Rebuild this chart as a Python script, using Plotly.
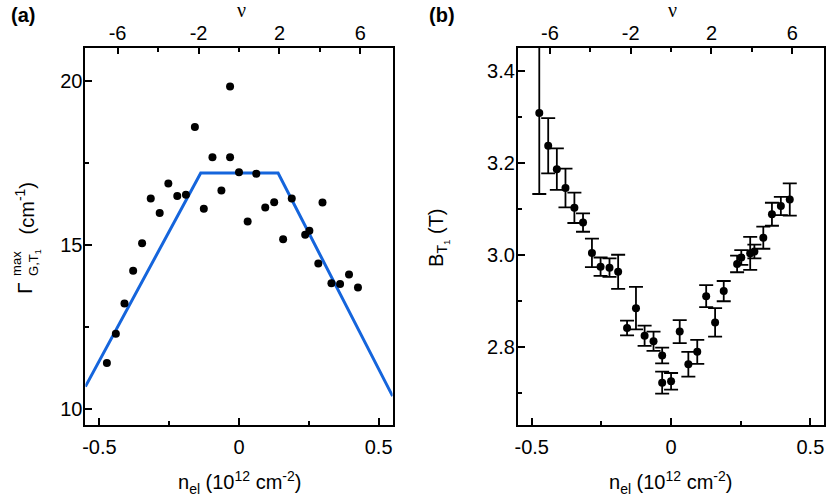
import plotly.graph_objects as go

# carrier density (10^12 cm^-2), same grid in both panels
n_el = [-0.473, -0.441, -0.410, -0.379, -0.347, -0.316, -0.284, -0.253, -0.221, -0.190,
        -0.158, -0.126, -0.095, -0.063, -0.032, -0.032, 0.000, 0.031, 0.062, 0.094,
        0.126, 0.158, 0.189, 0.237, 0.252, 0.284, 0.299, 0.331, 0.362, 0.394, 0.426]

# panel (a): linewidth (cm^-1)
gamma = [11.39, 12.28, 13.20, 14.20, 15.04, 16.40, 15.96, 16.86, 16.48, 16.52,
         18.58, 16.09, 17.66, 16.65, 19.82, 17.66, 17.20, 15.70, 17.16, 16.13,
         16.29, 15.16, 16.40, 15.30, 15.42, 14.42, 16.28, 13.82, 13.80, 14.09, 13.69]

# model curve in (a)
n_fit = [-0.55, -0.137, 0.140, 0.55]
gamma_fit = [10.67, 17.18, 17.18, 10.38]

# panel (b): field B_T1 (T) with error bars
b_t1 = [3.308, 3.237, 3.186, 3.145, 3.102, 3.070, 3.004, 2.974, 2.972, 2.963,
        2.841, 2.884, 2.824, 2.812, 2.781, 2.722, 2.725, 2.833, 2.762, 2.789,
        2.910, 2.853, 2.921, 2.980, 2.994, 3.003, 3.007, 3.037, 3.088, 3.106, 3.120]
b_err = [0.176, 0.060, 0.045, 0.042, 0.033, 0.020, 0.031, 0.020, 0.020, 0.037,
         0.016, 0.046, 0.022, 0.021, 0.017, 0.024, 0.018, 0.025, 0.027, 0.026,
         0.024, 0.031, 0.022, 0.018, 0.016, 0.036, 0.015, 0.024, 0.025, 0.020, 0.035]

# tick labels
n_ticks = [-0.5, 0, 0.5]
n_labels = ["-0.5", "0", "0.5"]
nu_ticks = [-6, -2, 2, 6]
nu_labels = ["-6", "-2", "2", "6"]
g_ticks = [10, 15, 20]
g_labels = ["10", "15", "20"]
b_ticks = [2.8, 3.0, 3.2, 3.4]
b_labels = ["2.8", "3.0", "3.2", "3.4"]

NU_PER_N = 13.8
W, H = 830, 501
FONT = "Liberation Sans"


def px_x(p):
    return p / W


def px_y(p):
    return 1 - p / H


fig = go.Figure()

fig.add_trace(go.Scatter(x=n_fit, y=gamma_fit, mode="lines",
                         line=dict(color="#1565DC", width=3), xaxis="x", yaxis="y"))
fig.add_trace(go.Scatter(x=n_el, y=gamma, mode="markers",
                         marker=dict(color="black", size=8), xaxis="x", yaxis="y"))
fig.add_trace(go.Scatter(x=n_el, y=b_t1, mode="markers",
                         marker=dict(color="black", size=8),
                         error_y=dict(type="data", array=b_err, color="black",
                                      thickness=1.8, width=7),
                         xaxis="x2", yaxis="y2"))
# dummy traces so the top nu axes get drawn
fig.add_trace(go.Scatter(x=[], y=[], xaxis="x3", yaxis="y"))
fig.add_trace(go.Scatter(x=[], y=[], xaxis="x4", yaxis="y2"))

dom_a = [px_x(82.7), px_x(391)]
dom_b = [px_x(516.7), px_x(824.3)]
dom_y = [px_y(425), px_y(47.7)]

common = dict(showline=True, linecolor="black", linewidth=2, mirror=True,
              ticks="inside", ticklen=7, tickwidth=2, tickcolor="black",
              showgrid=False, zeroline=False,
              tickfont=dict(family=FONT, size=20, color="black"))

xa = dict(common, range=[-0.55, 0.55], tickvals=n_ticks, ticktext=n_labels,
          ticklabelstandoff=3,
          minor=dict(ticks="inside", ticklen=4, tickwidth=2, tickcolor="black", dtick=0.25, tick0=0))
nu_ax = dict(range=[-0.55 * NU_PER_N, 0.55 * NU_PER_N], side="top",
             tickvals=nu_ticks, ticktext=nu_labels, ticks="inside", ticklen=6, tickwidth=2,
             tickcolor="black", showline=False, showgrid=False, zeroline=False,
             ticklabelstandoff=3,
             tickfont=dict(family=FONT, size=20, color="black"),
             minor=dict(ticks="inside", ticklen=4, tickwidth=2, tickcolor="black",
                        tickvals=[-4, 0, 4]))

fig.update_layout(
    width=W, height=H,
    margin=dict(l=0, r=0, t=0, b=0),
    paper_bgcolor="white", plot_bgcolor="white",
    showlegend=False,
    xaxis=dict(xa, domain=dom_a, anchor="y"),
    xaxis2=dict(xa, domain=dom_b, anchor="y2"),
    xaxis3=dict(nu_ax, overlaying="x", anchor="y"),
    xaxis4=dict(nu_ax, overlaying="x2", anchor="y2"),
    yaxis=dict(common, domain=dom_y, anchor="x", range=[9.5, 21.0],
               tickvals=g_ticks, ticktext=g_labels, ticklabelstandoff=-3,
               minor=dict(ticks="inside", ticklen=4, tickwidth=2, tickcolor="black", dtick=2.5, tick0=0)),
    yaxis2=dict(common, domain=dom_y, anchor="x2", range=[2.63, 3.45],
                tickvals=b_ticks, ticktext=b_labels, ticklabelstandoff=-3,
                minor=dict(ticks="inside", ticklen=4, tickwidth=2, tickcolor="black", dtick=0.1, tick0=0)),
)

f20 = dict(family=FONT, size=20, color="black")
ann = [
    dict(text="<b>(a)</b>", x=px_x(20), y=px_y(15), font=f20),
    dict(text="<b>(b)</b>", x=px_x(441), y=px_y(15), font=f20),
    dict(text="ν", x=px_x(239), y=px_y(10), font=dict(family="Liberation Serif", size=20, color="black")),
    dict(text="ν", x=px_x(672), y=px_y(10), font=dict(family="Liberation Serif", size=20, color="black")),
    dict(text="n<sub>el</sub> (10<sup>12</sup> cm<sup>-2</sup>)", x=px_x(237), y=px_y(482), font=f20),
    dict(text="n<sub>el</sub> (10<sup>12</sup> cm<sup>-2</sup>)", x=px_x(670), y=px_y(482), font=f20),
    # y title (a), built from pieces to stack the super/subscript
    dict(text="Γ", x=px_x(21), y=px_y(288), font=dict(family=FONT, size=21, color="black"), textangle=-90),
    dict(text="max<br>G,T<sub>1</sub>", x=px_x(22.5), y=px_y(262.5), align="left",
         font=dict(family=FONT, size=13, color="black"), textangle=-90),
    dict(text="(cm<sup>-1</sup>)", x=px_x(22), y=px_y(208.5), font=f20, textangle=-90),
    dict(text="B<sub>T<sub>1</sub></sub> (T)", x=px_x(437), y=px_y(237.5), font=f20, textangle=-90),
]
for a in ann:
    a.update(xref="paper", yref="paper", showarrow=False, xanchor="center", yanchor="middle")
fig.update_layout(annotations=ann)

# drop the browser's default body margin so the 830x501 figure fills the window
fig.write_html("out.html", config={"displayModeBar": False},
               post_script="document.body.style.margin = '0px';")
